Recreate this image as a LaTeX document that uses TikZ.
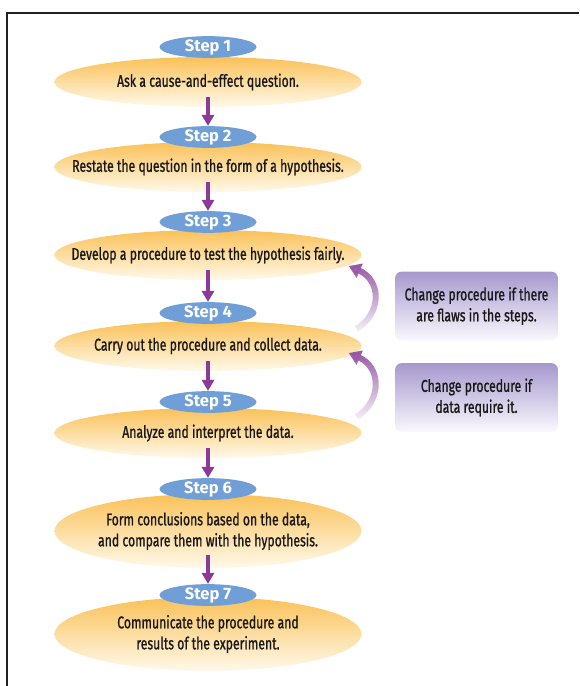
\documentclass[tikz,border=0pt]{standalone}
\usepackage{fontspec}
\usetikzlibrary{shapes.geometric,arrows.meta,fadings}
\newfontfamily\ovalfont{Fira Sans}[FakeStretch=0.72,FakeBold=1]
\newfontfamily\pillfont{Fira Sans}
\definecolor{ovaltop}{RGB}{250,193,88}
\definecolor{ovalbottom}{RGB}{255,249,234}
\definecolor{pillblue}{RGB}{111,159,214}
\definecolor{steppurple}{RGB}{139,58,151}
\definecolor{backpurple}{RGB}{150,85,165}
\definecolor{boxtop}{RGB}{166,152,205}
\definecolor{boxbottom}{RGB}{250,249,253}
\definecolor{framegray}{RGB}{35,31,32}
\tikzfading[name=fadetail, top color=transparent!0, bottom color=transparent!92]

\begin{document}
\begin{tikzpicture}[x=1pt,y=1pt,yscale=-1,
  stepoval/.style={ellipse,draw=none,inner sep=0pt,minimum width=307pt,minimum height=50pt,top color=ovaltop,bottom color=ovalbottom},
  steptext/.style={inner sep=0pt,align=center,text=black!90,font=\ovalfont\fontsize{17}{21}\selectfont},
  steppill/.style={ellipse,inner sep=0pt,minimum width=97pt,minimum height=21pt,fill=pillblue,text=white,font=\pillfont\bfseries\fontsize{16.5}{18}\selectfont},
  notebox/.style={rounded corners=7pt,inner sep=0pt,minimum width=163pt,minimum height=69pt,top color=boxtop,bottom color=boxbottom,align=center,text=black!90,font=\ovalfont\fontsize{17}{21}\selectfont},
  steparrow/.style={draw=steppurple,line width=4pt,-{Triangle[width=12pt,length=11pt]}},
  backarrow/.style={draw=backpurple,line width=6pt,-{Triangle[width=15pt,length=12pt]},path fading=fadetail}]
\useasboundingbox (0,0) rectangle (579,686);
\draw [line width=2pt,framegray] (7,686) -- (7,13) -- (579,13) ;

\node [stepoval] (oval1) at (208,82) {};
\node [stepoval] (oval2) at (208,167) {};
\node [stepoval] (oval3) at (208,255) {};
\node [stepoval] (oval4) at (208,346) {};
\node [stepoval] (oval5) at (208,433) {};
\node [stepoval,minimum height=74pt] (oval6) at (208,531) {};
\node [stepoval,minimum height=74pt] (oval7) at (208,634) {};

\node [steptext] (text1) at (oval1) {Ask a cause-and-effect question.};
\node [steptext] (text2) at (oval2) {Restate the question in the form of a hypothesis.};
\node [steptext] (text3) at (oval3) {Develop a procedure to test the hypothesis fairly.};
\node [steptext] (text4) at (oval4) {Carry out the procedure and collect data.};
\node [steptext] (text5) at (oval5) {Analyze and interpret the data.};
\node [steptext] (text6) at (oval6) {Form conclusions based on the data,\\and compare them with the hypothesis.};
\node [steptext] (text7) at (oval7) {Communicate the procedure and\\results of the experiment.};

\node [steppill] (pill1) at (208,47) {Step 1};
\node [steppill] (pill2) at (208,137) {Step 2};
\node [steppill] (pill3) at (208,222) {Step 3};
\node [steppill] (pill4) at (208,313) {Step 4};
\node [steppill] (pill5) at (208,402) {Step 5};
\node [steppill] (pill6) at (208,489) {Step 6};
\node [steppill] (pill7) at (208,595) {Step 7};

\draw [steparrow] ([yshift=-10pt]oval1.south) -- (pill2.north) ;
\draw [steparrow] ([yshift=-10pt]oval2.south) -- (pill3.north) ;
\draw [steparrow] ([yshift=-10pt]oval3.south) -- (pill4.north) ;
\draw [steparrow] ([yshift=-10pt]oval4.south) -- (pill5.north) ;
\draw [steparrow] ([yshift=-10pt]oval5.south) -- (pill6.north) ;
\draw [steparrow] ([yshift=-13pt]oval6.south) -- (pill7.north) ;

\node [notebox] (note1) at (476.5,306) {Change procedure if there\\are flaws in the steps.};
\node [notebox] (note2) at (476.5,397.5) {Change procedure if\\data require it.};

\draw [backarrow] ([xshift=-5pt,yshift=-17pt]oval4.east) .. controls +(26,-17) and +(32,14) .. ([xshift=-13pt,yshift=11pt]oval3.east) ;
\draw [backarrow] ([xshift=-5pt,yshift=-16pt]oval5.east) .. controls +(26,-17) and +(32,14) .. ([xshift=-13pt,yshift=7pt]oval4.east) ;

\end{tikzpicture}
\end{document}
